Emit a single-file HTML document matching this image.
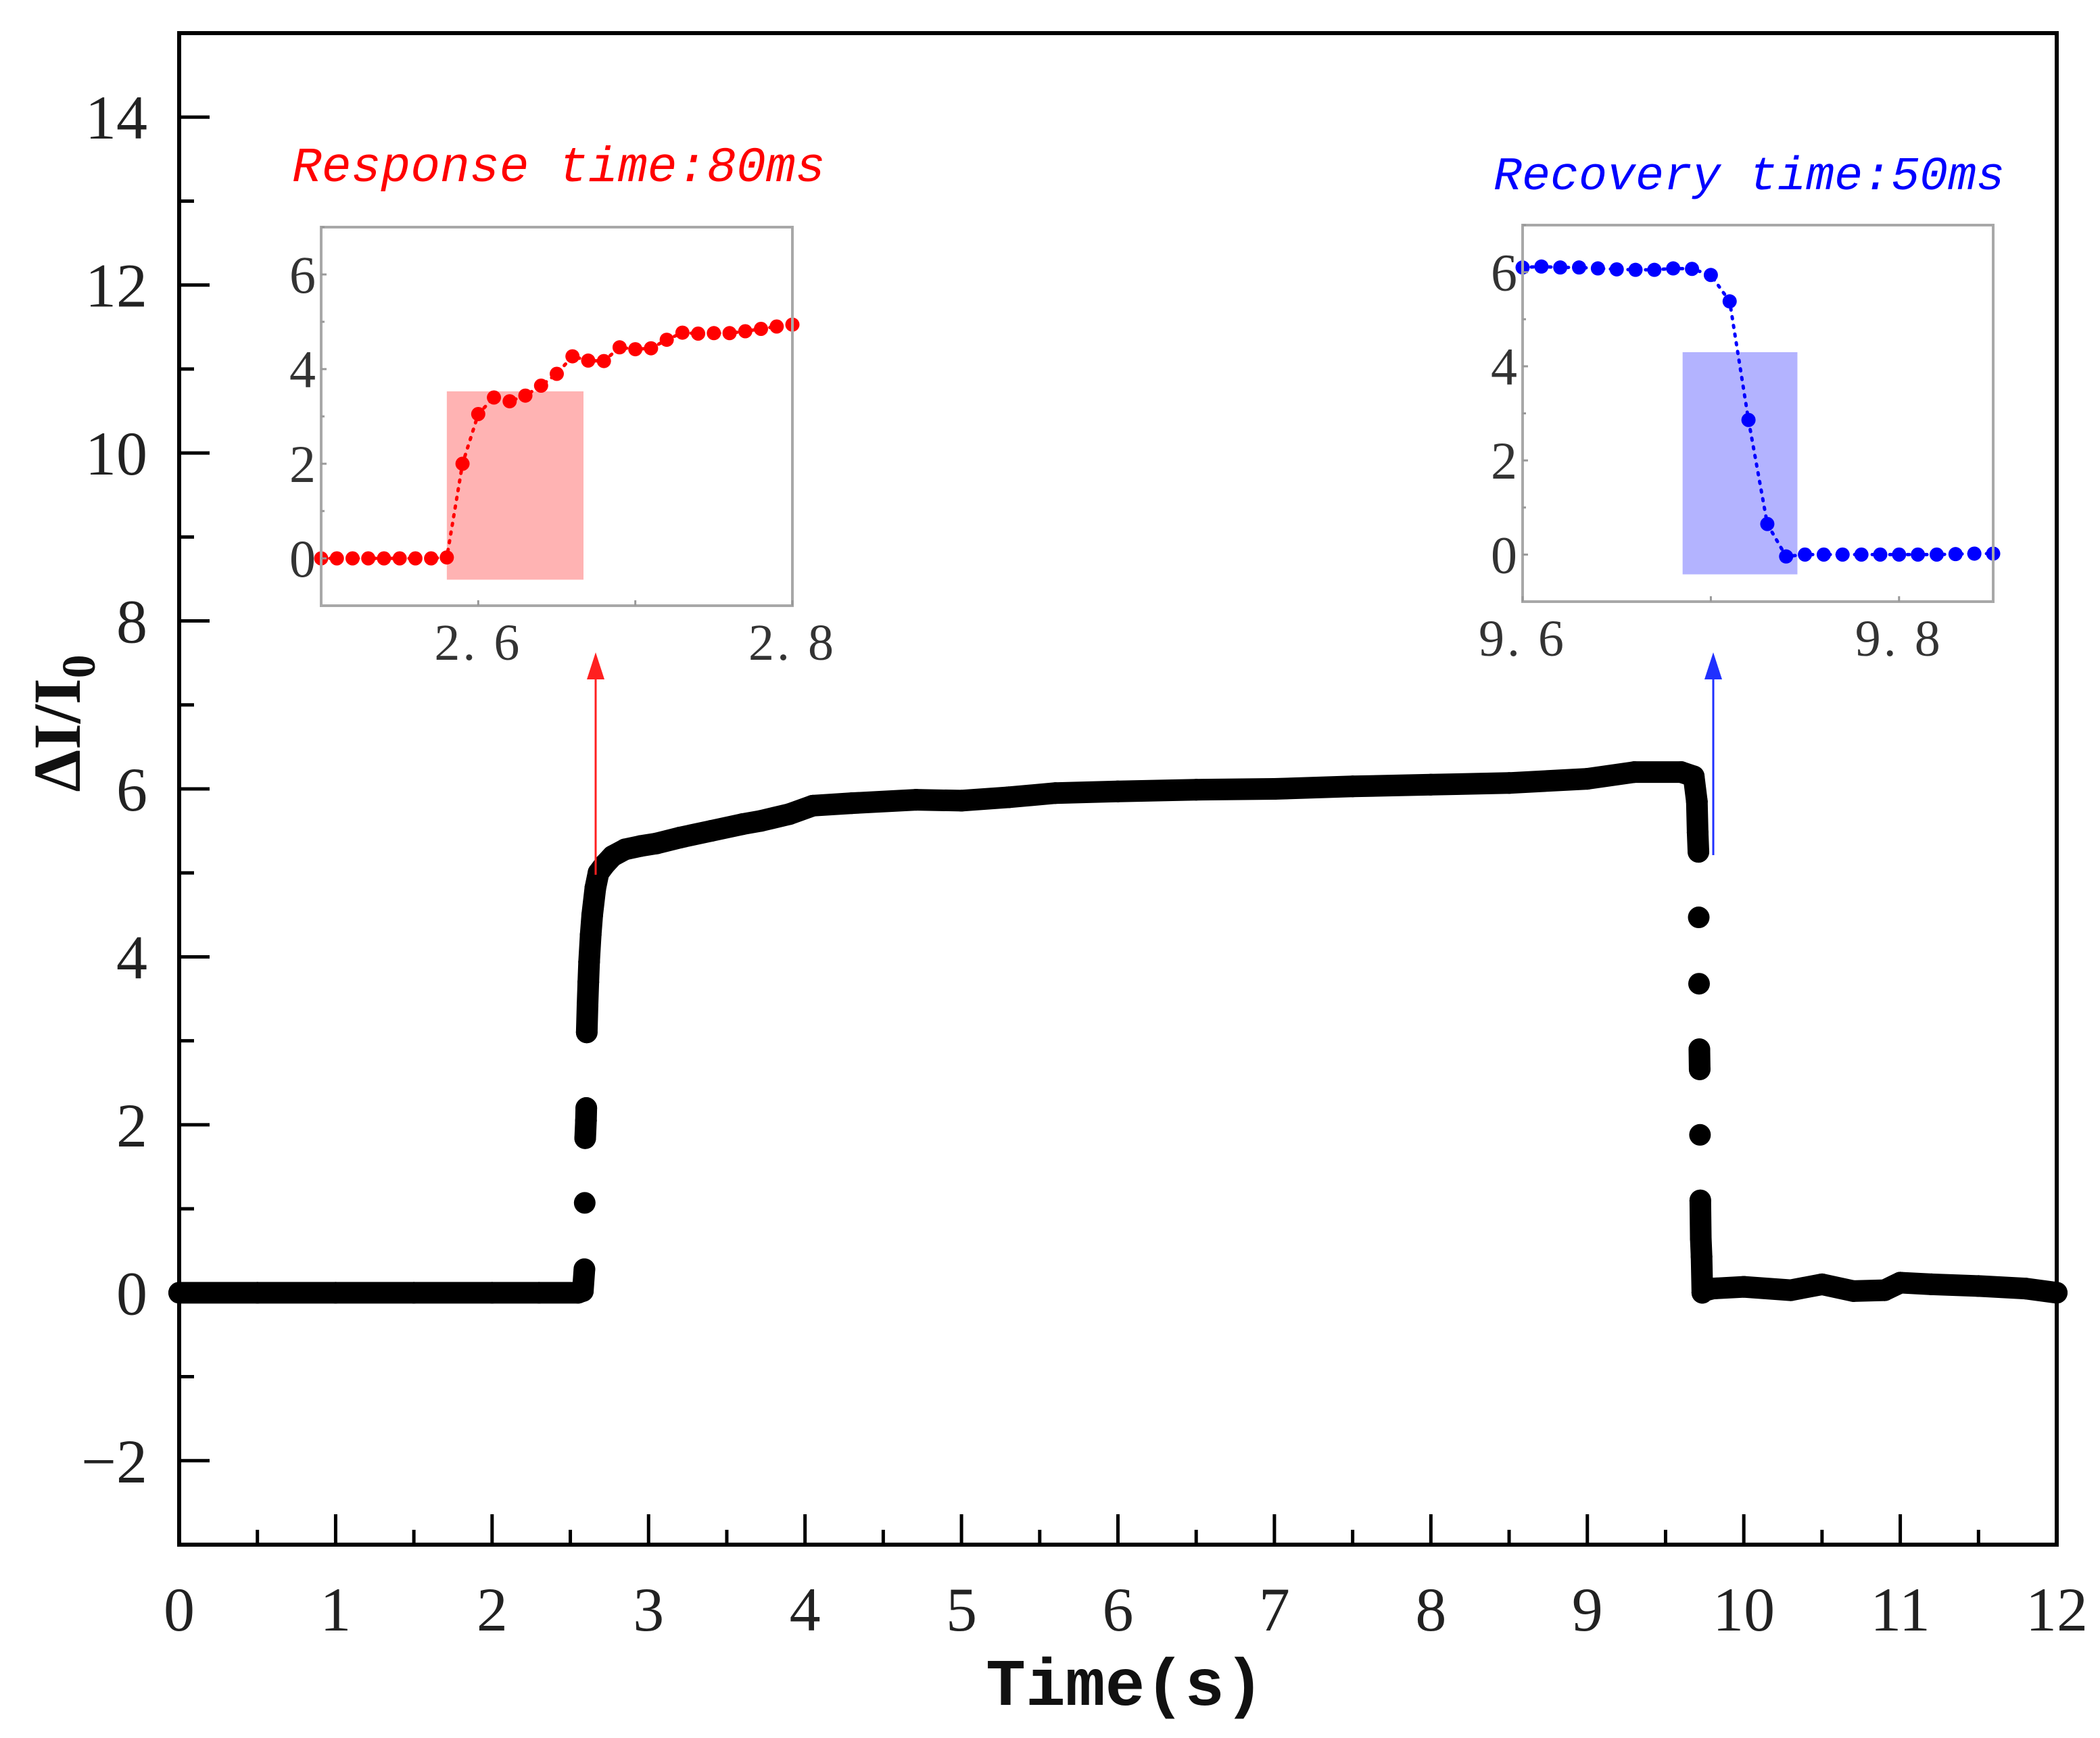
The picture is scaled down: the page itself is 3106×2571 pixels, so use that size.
<!DOCTYPE html>
<html><head><meta charset="utf-8">
<style>
html,body{margin:0;padding:0;background:#fff;}
svg{display:block;}
</style></head>
<body>
<svg id="chart" width="3106" height="2571" viewBox="0 0 3106 2571" xmlns="http://www.w3.org/2000/svg">
  <rect x="0" y="0" width="3106" height="2571" fill="#fff"/>
  <g id="main"></g>
  <g id="inset1"></g>
  <g id="inset2"></g>
</svg>
<script>
// ---- main chart data ----
const mainT = [0,0.5,1,1.5,2,2.3,2.55,2.58,2.59,2.592,2.595,2.6,2.602,2.605,2.61,2.615,2.62,2.63,2.64,2.66,2.68,2.72,2.77,2.85,2.95,3.05,3.2,3.4,3.6,3.72,3.9,4.05,4.3,4.71,5.0,5.3,5.6,6.0,6.5,7.0,7.5,8.0,8.5,9.0,9.3,9.6,9.68,9.70,9.705,9.71,9.712,9.714,9.716,9.718,9.72,9.722,9.725,9.73,9.735,9.74,9.8,10.0,10.3,10.5,10.7,10.9,11.0,11.2,11.5,11.8,12.0];
const mainV = [0,0,0,0,0,0,0,0.02,0.28,1.07,1.84,2.05,2.2,3.1,3.43,3.7,3.94,4.26,4.5,4.82,5.0,5.1,5.2,5.28,5.32,5.35,5.42,5.5,5.58,5.62,5.7,5.8,5.83,5.87,5.86,5.9,5.95,5.97,5.99,6.0,6.03,6.05,6.07,6.12,6.2,6.2,6.15,5.85,5.48,5.25,4.47,3.68,2.9,2.66,1.88,1.1,0.65,0.43,0.0,0.02,0.05,0.07,0.03,0.1,0.02,0.03,0.12,0.1,0.08,0.05,0.0];
const xTicks = [0,1,2,3,4,5,6,7,8,9,10,11,12];
const yTicks = [-2,0,2,4,6,8,10,12,14];

// ---- inset data ----
const respT = [2.50,2.51,2.52,2.53,2.54,2.55,2.56,2.57,2.58,2.59,2.60,2.61,2.62,2.63,2.64,2.65,2.66,2.67,2.68,2.69,2.70,2.71,2.72,2.73,2.74,2.75,2.76,2.77,2.78,2.79,2.80];
const respV = [0,0,0,0,0,0,0,0,0.02,2.0,3.05,3.4,3.32,3.44,3.65,3.9,4.27,4.18,4.17,4.46,4.42,4.44,4.62,4.77,4.75,4.76,4.76,4.8,4.85,4.9,4.94];
const respBox = [2.58,2.667,-0.45,3.53];
const recT = [9.60,9.61,9.62,9.63,9.64,9.65,9.66,9.67,9.68,9.69,9.70,9.71,9.72,9.73,9.74,9.75,9.76,9.77,9.78,9.79,9.80,9.81,9.82,9.83,9.84,9.85];
const recV = [6.1,6.12,6.1,6.1,6.08,6.06,6.05,6.05,6.08,6.07,5.94,5.38,2.86,0.65,-0.04,0,0,0,0,0,0,0,0,0.01,0.02,0.02];
const recBox = [9.685,9.746,-0.42,4.3];
const insetYTicks = [0,2,4,6];

const NS = "http://www.w3.org/2000/svg";
function el(parent, tag, attrs, text){
  const e = document.createElementNS(NS, tag);
  for (const k in attrs) e.setAttribute(k, attrs[k]);
  if (text !== undefined) e.textContent = text;
  parent.appendChild(e);
  return e;
}

// ---- main axes ----
const L=265, R=3042, T=49, B=2285, XMIN=0, XMAX=12, YMIN=-3, YMAX=15;
const sx = t => L + (t-XMIN)/(XMAX-XMIN)*(R-L);
const sy = v => B - (v-YMIN)/(YMAX-YMIN)*(B-T);
const main = document.getElementById('main');

for (let i=1;i<mainT.length;i++){
  const dv = Math.abs(mainV[i]-mainV[i-1]);
  if (dv < 0.5){
    const seg = el(main,'line',{x1:sx(mainT[i-1]),y1:sy(mainV[i-1]),x2:sx(mainT[i]),y2:sy(mainV[i]),stroke:'#000','stroke-width':32,'stroke-linecap':'round'});
    
    
  }
}
for (let i=0;i<mainT.length;i++){
  const c = el(main,'circle',{cx:sx(mainT[i]),cy:sy(mainV[i]),r:16,fill:'#000'});
  
  
}

const frame = el(main,'rect',{x:L,y:T,width:R-L,height:B-T,fill:'none',stroke:'#000','stroke-width':6});



xTicks.forEach(t=>{
  const tk = el(main,'line',{x1:sx(t),y1:B,x2:sx(t),y2:B-45,stroke:'#000','stroke-width':5});
  
  
  if (t<12){
    const mt = el(main,'line',{x1:sx(t+0.5),y1:B,x2:sx(t+0.5),y2:B-22,stroke:'#000','stroke-width':5});
    
    
  }
  const lb = el(main,'text',{x:sx(t),y:2412,'text-anchor':'middle','font-family':'Liberation Serif, serif','font-size':92,fill:'#222'},String(t));
  
  
});
yTicks.forEach(v=>{
  const tk = el(main,'line',{x1:L,y1:sy(v),x2:L+45,y2:sy(v),stroke:'#000','stroke-width':5});
  
  
  const mt = el(main,'line',{x1:L,y1:sy(v+1),x2:L+22,y2:sy(v+1),stroke:'#000','stroke-width':5});
  
  
  const lb = el(main,'text',{x:218,y:sy(v)+32,'text-anchor':'end','font-family':'Liberation Serif, serif','font-size':92,fill:'#222'},v<0?'\u2212'+Math.abs(v):String(v));
  
  
});
el(main,'line',{x1:L,y1:sy(-3),x2:L+22,y2:sy(-3),stroke:'#000','stroke-width':5});

const xt = el(main,'text',{x:1664,y:2522,'text-anchor':'middle','font-family':'Liberation Mono, monospace','font-size':98,'font-weight':'bold',fill:'#111'},'Time(s)');


const yt = el(main,'text',{x:0,y:0,'text-anchor':'middle','font-family':'Liberation Serif, serif','font-size':100,'font-weight':'bold',fill:'#111',transform:'translate(118,1070) rotate(-90)'});


el(yt,'tspan',{},'\u0394I/I');
el(yt,'tspan',{'font-size':70,dy:22},'0');

function arrow(x,y1,y2,color,name){
  const g = el(main,'g',{});
  
  
  el(g,'line',{x1:x,y1:y1,x2:x,y2:y2+30,stroke:color,'stroke-width':3});
  el(g,'polygon',{points:`${x-13},${y2+40} ${x+13},${y2+40} ${x},${y2}`,fill:color});
}
arrow(881,1294,965,'#ff2020','response-arrow');
arrow(2534,1265,965,'#2030ff','recovery-arrow');

function inset(gid, box, xmin, xmax, xt, xl, T2, V2, hb, color, fillc, title, titleX, titleY, titleSize){
  const g = document.getElementById(gid);
  const [l,t,r,b] = box;
  const ix = x => l + (x-xmin)/(xmax-xmin)*(r-l);
  const iy = v => b - (v+1)/8*(b-t);
  const hl = el(g,'rect',{x:ix(hb[0]),y:iy(hb[3]),width:ix(hb[1])-ix(hb[0]),height:iy(hb[2])-iy(hb[3]),fill:fillc});
  
  
  const pts = T2.map((x,i)=>ix(x)+','+iy(V2[i])).join(' ');
  const pl = el(g,'polyline',{points:pts,fill:'none',stroke:color,'stroke-width':5,'stroke-dasharray':'3 10','stroke-linecap':'round'});
  
  
  T2.forEach((x,i)=>{
    const c = el(g,'circle',{cx:ix(x),cy:iy(V2[i]),r:10.5,fill:color});
    
    
  });
  const fr = el(g,'rect',{x:l,y:t,width:r-l,height:b-t,fill:'none',stroke:'#a8a8a8','stroke-width':4});
  
  
  insetYTicks.forEach(v=>{
    el(g,'line',{x1:l,y1:iy(v),x2:l+8,y2:iy(v),stroke:'#999','stroke-width':3});
    el(g,'line',{x1:l,y1:iy(v+1),x2:l+5,y2:iy(v+1),stroke:'#999','stroke-width':3});
    const lb = el(g,'text',{x:l-8,y:iy(v)+27,'text-anchor':'end','font-family':'Liberation Serif, serif','font-size':78,fill:'#333'},String(v));
    
    
  });
  xt.forEach(x=>{ el(g,'line',{x1:ix(x),y1:b,x2:ix(x),y2:b-8,stroke:'#999','stroke-width':3}); });
  xl.forEach(x=>{
    const lb = el(g,'text',{x:ix(x),y:b+80,'text-anchor':'middle','font-family':'Liberation Serif, serif','font-size':76,fill:'#333','letter-spacing':'4'},x.toFixed(1).replace('.','. '));
    
    
  });
  const tt = el(g,'text',{x:titleX,y:titleY,'font-family':'Liberation Mono, monospace','font-style':'italic','font-size':titleSize,fill:color},title);
  
  
}
inset('inset1',[475,336,1172,896],2.5,2.8,[2.6,2.7,2.8],[2.6,2.8],respT,respV,respBox,'#ff0000','#ffb3b3','Response time:80ms',432,268,73);
inset('inset2',[2252,333,2948,890],9.6,9.85,[9.6,9.7,9.8],[9.6,9.8],recT,recV,recBox,'#0000ff','#b3b3ff','Recovery time:50ms',2209,280,70);
</script>
</body></html>
